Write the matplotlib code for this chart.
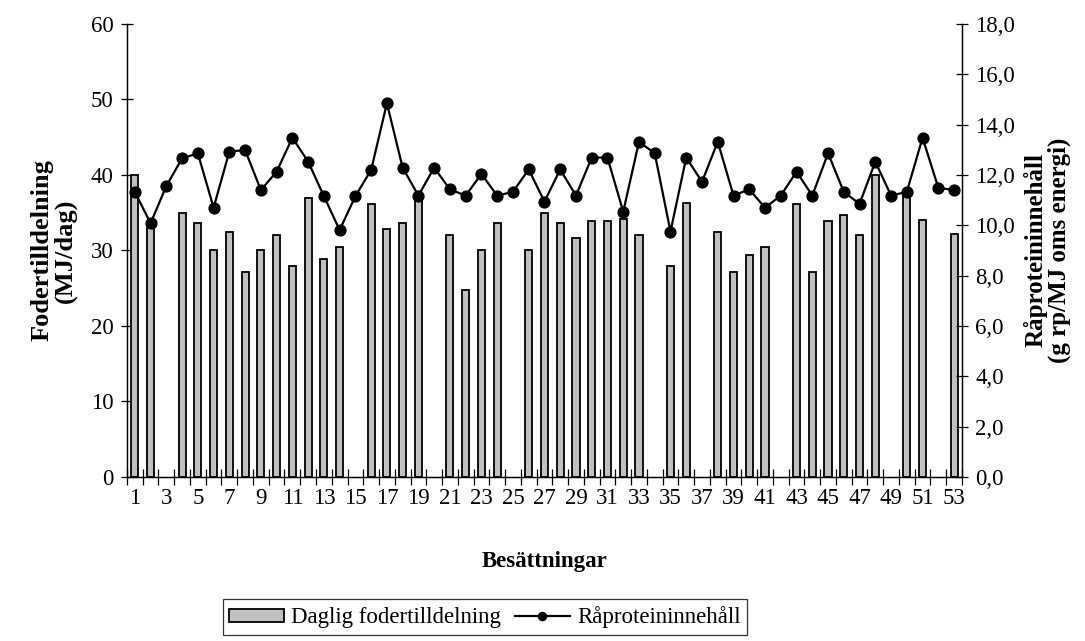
import numpy as np
import matplotlib
matplotlib.use("Agg")
import matplotlib.pyplot as plt

plt.rcParams["font.family"] = ["Liberation Serif", "DejaVu Serif"]

# Herds 1..53; None where no feed allocation was recorded
herds = list(range(1, 54))
feed = [40.0, 33.6, None, 35.0, 33.7, 30.0, 32.4, 27.1, 30.0, 32.1,
        27.9, 36.9, 28.9, 30.5, None, 36.1, 32.9, 33.7, 37.0, None,
        32.1, 24.7, 30.0, 33.7, None, 30.0, 35.0, 33.7, 31.6, 33.9,
        33.9, 34.2, 32.1, None, 27.9, 36.3, None, 32.4, 27.1, 29.4,
        30.5, None, 36.1, 27.1, 33.9, 34.7, 32.1, 40.0, None, 37.5,
        34.0, None, 32.2]
protein = [11.33, 10.08, 11.56, 12.66, 12.86, 10.70, 12.93, 12.99, 11.40, 12.13,
           13.48, 12.53, 11.16, 9.81, 11.16, 12.20, 14.85, 12.29, 11.18, 12.29,
           11.43, 11.18, 12.04, 11.18, 11.33, 12.22, 10.94, 12.22, 11.18, 12.69,
           12.69, 10.54, 13.32, 12.86, 9.75, 12.69, 11.73, 13.32, 11.18, 11.43,
           10.70, 11.18, 12.13, 11.18, 12.86, 11.33, 10.85, 12.53, 11.18, 11.33,
           13.48, 11.49, 11.40]

left_ticks = [0, 10, 20, 30, 40, 50, 60]
right_ticks = [0, 2, 4, 6, 8, 10, 12, 14, 16, 18]

fig = plt.figure(figsize=(10.85, 6.41), dpi=100)
ax = fig.add_axes([0.117, 0.2559, 0.7696, 0.7067])
ax2 = ax.twinx()

x = np.array(herds)
fx = [h for h, v in zip(herds, feed) if v is not None]
fv = [v for v in feed if v is not None]
bars = ax.bar(fx, fv, width=0.45, color="#C0C0C0", edgecolor="black",
              linewidth=1.3, zorder=2)
line, = ax2.plot(x, protein, color="black", lw=1.6, marker="o",
                 markersize=7.8, zorder=3)

ax.set_xlim(0.5, 53.5)
ax.set_ylim(0, 60)
ax2.set_ylim(0, 18)

# category boundaries carry the tick marks, odd herds carry the labels
ax.set_xticks(np.arange(0.5, 54, 1))
ax.set_xticklabels([])
ax.set_xticks(x[::2], [str(h) for h in x[::2]], minor=True)
ax.tick_params(axis="x", which="major", direction="inout", length=12,
               width=0.9)
ax.tick_params(axis="x", which="minor", length=0, pad=8, labelsize=16.5)

ax.set_yticks(left_ticks)
ax.tick_params(axis="y", direction="inout", length=9, width=0.9,
               labelsize=16.5, pad=5)
ax2.set_yticks(right_ticks)
ax2.set_yticklabels([f"{t:.1f}".replace(".", ",") for t in right_ticks])
ax2.tick_params(axis="y", direction="inout", length=9, width=0.9,
                labelsize=16.5, pad=5)

for a in (ax, ax2):
    a.spines["top"].set_visible(False)
    for s in ("left", "right", "bottom"):
        a.spines[s].set_linewidth(0.9)

ax.set_ylabel("Fodertilldelning\n(MJ/dag)", fontsize=19, fontweight="bold",
              labelpad=10, linespacing=1.0)
ax2.set_ylabel("Råproteininnehåll\n(g rp/MJ oms energi)", fontsize=18,
               fontweight="bold", labelpad=6, linespacing=1.0)
ax.set_xlabel("Besättningar", fontsize=16.5, fontweight="bold", labelpad=30)

leg = fig.legend([bars, line], ["Daglig fodertilldelning", "Råproteininnehåll"],
                 loc="center", bbox_to_anchor=(0.447, 0.037), ncol=2,
                 fontsize=16.5, frameon=True, fancybox=False, handlelength=2.4,
                 handleheight=0.5, handletextpad=0.3, columnspacing=0.6,
                 borderpad=0.3, markerscale=0.75)
leg.get_frame().set_edgecolor("black")
leg.get_frame().set_linewidth(0.9)

fig.savefig("out.png", dpi=100)
